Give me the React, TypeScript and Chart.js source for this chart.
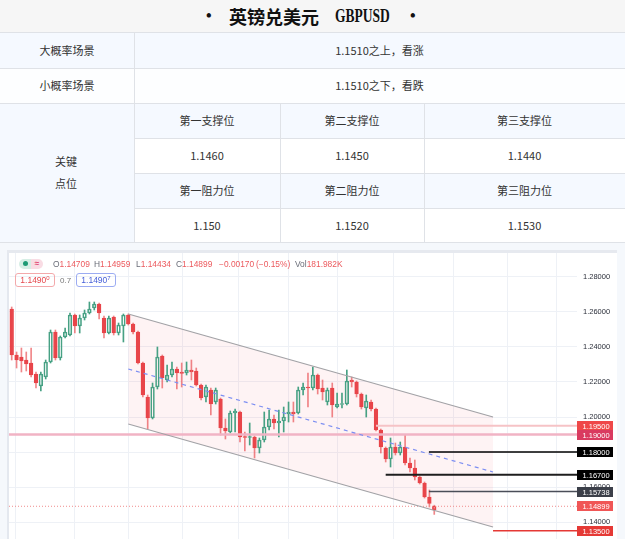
import React, { useEffect, useRef } from "react";
import { Chart, registerables } from "chart.js";
Chart.register(...registerables);

// ---- candle data (GBPUSD) ----
const opens = [1.26171,1.23543,1.23429,1.23257,1.23086,1.22457,1.21771,1.22286,1.23143,1.24857,1.23371,1.24571,1.24686,1.25829,1.25200,1.25657,1.25943,1.26229,1.26457,1.25657,1.24800,1.25714,1.24800,1.25200,1.25829,1.25314,1.24857,1.23086,1.21143,1.19943,1.21714,1.23486,1.22114,1.22400,1.22743,1.22571,1.22514,1.22686,1.22629,1.21829,1.21143,1.21543,1.20857,1.21029,1.19371,1.19143,1.20229,1.20286,1.18857,1.18829,1.18857,1.18229,1.18686,1.19429,1.19886,1.19657,1.19771,1.20171,1.20286,1.20229,1.21543,1.21714,1.21657,1.22400,1.21657,1.20857,1.21657,1.20571,1.20714,1.20743,1.22114,1.22000,1.21314,1.20514,1.20857,1.20457,1.19257,1.18229,1.17600,1.18286,1.17943,1.18286,1.17371,1.17086,1.16571,1.16229,1.15429,1.14709];
const highs = [1.26286,1.23714,1.23943,1.23714,1.23943,1.22571,1.22571,1.23257,1.24971,1.24971,1.24629,1.25086,1.25943,1.25886,1.25829,1.26114,1.26571,1.26571,1.26514,1.25771,1.25771,1.25771,1.25371,1.25886,1.25886,1.25371,1.24914,1.23143,1.21257,1.21943,1.24000,1.23543,1.22971,1.23143,1.22857,1.23086,1.23143,1.23257,1.22800,1.21886,1.21829,1.21657,1.21657,1.21086,1.19886,1.20343,1.20457,1.20343,1.19143,1.19657,1.18914,1.18800,1.20286,1.20400,1.20114,1.20400,1.20571,1.20857,1.20857,1.21714,1.21943,1.22514,1.22857,1.22457,1.22114,1.21657,1.21943,1.21371,1.21371,1.22686,1.22286,1.22057,1.21371,1.21257,1.20971,1.20514,1.19314,1.18286,1.18800,1.18514,1.18571,1.18971,1.17657,1.17543,1.16629,1.16286,1.15829,1.14959];
const lows = [1.23257,1.22800,1.22571,1.22629,1.22286,1.21657,1.21486,1.22171,1.23086,1.23257,1.23257,1.24514,1.24629,1.24800,1.24800,1.25543,1.25886,1.26114,1.25600,1.24514,1.24743,1.24686,1.24686,1.24286,1.25257,1.24743,1.23029,1.21143,1.19314,1.19886,1.21600,1.21657,1.22000,1.22286,1.21600,1.21714,1.22400,1.22114,1.21771,1.20971,1.20857,1.20114,1.20743,1.18971,1.18743,1.19086,1.19143,1.18571,1.18057,1.18400,1.17657,1.17943,1.18571,1.19257,1.19314,1.18857,1.19143,1.19714,1.19714,1.20171,1.21257,1.20571,1.21543,1.21314,1.20971,1.20686,1.20000,1.20514,1.20514,1.20686,1.21714,1.21143,1.20457,1.20000,1.20343,1.19200,1.17943,1.17429,1.17143,1.17829,1.17829,1.17257,1.16857,1.16400,1.16171,1.15371,1.14857,1.14434];
const closes = [1.23543,1.23257,1.23200,1.23029,1.22400,1.21943,1.22457,1.23143,1.24857,1.23371,1.24571,1.24857,1.25829,1.25200,1.25657,1.25943,1.26171,1.26457,1.25943,1.24800,1.25657,1.24800,1.25257,1.25829,1.25314,1.24857,1.23086,1.21257,1.19943,1.21714,1.23429,1.22229,1.22400,1.22743,1.22514,1.22486,1.22686,1.22571,1.21829,1.21086,1.21714,1.20743,1.21543,1.19371,1.19200,1.20229,1.20343,1.18857,1.18829,1.18857,1.18229,1.18686,1.19429,1.19886,1.19657,1.19771,1.20000,1.20286,1.20171,1.21543,1.21714,1.21657,1.22400,1.21600,1.21429,1.21543,1.20686,1.20743,1.20771,1.22057,1.22000,1.21314,1.20571,1.20914,1.20457,1.19257,1.18286,1.17600,1.18286,1.17943,1.18286,1.17371,1.17086,1.16571,1.16229,1.15429,1.15069,1.14899];

// price scale ticks and time grid positions (bar index)
const priceTicks = [1.14, 1.16, 1.18, 1.2, 1.22, 1.24, 1.26, 1.28];
const timeGrid = [6.86, 19.0, 29.03, 41.18, 52.15, 62.03, 72.06, 85.09, 96.97, 107.06];

// channel drawing (bar index / price)
const channelX = [24, 99.1];
const channelUpper = [1.25886, 1.2];
const channelMid = [1.22743, 1.16857];
const channelLower = [1.196, 1.13714];

// horizontal levels
const levelValues = [1.195, 1.19, 1.18, 1.167, 1.15738, 1.14899, 1.135];
const levelStart = [75, null, 85.9, 77, 85.9, null, 99.1];

// legend texts
const ohlcLegend = [
  ["O", "1.14709"], ["H", "1.14959"], ["L", "1.14434"], ["C", "1.14899"],
  ["", "\u22120.00170"], ["", "(\u22120.15%)"], ["Vol", "181.982K"],
];

const X_MIN = -0.556, X_MAX = 116.39;
const Y_MIN = 1.13029, Y_MAX = 1.29371;

const GREEN = "#47a184";
const RED = "#e8454a";
const FONT = '"Liberation Sans", Arial, sans-serif';
const CJK = '"Noto Sans CJK SC", "Noto Sans", sans-serif';

const levelStyle = [
  { line: "#f6c3c6", width: 2, dash: [] as number[], tag: "#ef4848" },
  { line: "#f1b3c4", width: 2.5, dash: [], tag: "#d93a60" },
  { line: "#000000", width: 1.5, dash: [], tag: "#000000" },
  { line: "#1e1e1e", width: 2, dash: [], tag: "#000000" },
  { line: "#4a4e58", width: 1.5, dash: [], tag: "#3b3f49" },
  { line: "#f08c8c", width: 1, dash: [1, 2], tag: "#f05656" },
  { line: "#e53935", width: 1.5, dash: [], tag: "#e53935" },
];

const tagPlugin = {
  id: "priceTags",
  afterDraw(chart: any) {
    const { ctx, chartArea, scales } = chart;
    const y = scales.y;
    ctx.save();
    levelValues.forEach((v, i) => {
      const py = y.getPixelForValue(v);
      ctx.fillStyle = levelStyle[i].tag;
      ctx.fillRect(chartArea.right, Math.round(py - 5), 36, 10);
      ctx.fillStyle = "#ffffff";
      ctx.font = `7.5px ${FONT}`;
      ctx.textBaseline = "middle";
      ctx.textAlign = "left";
      ctx.fillText(v.toFixed(5), chartArea.right + 5.5, Math.round(py) + 0.5);
    });
    ctx.restore();
  },
};

function CandleChart() {
  const ref = useRef<HTMLCanvasElement>(null);
  useEffect(() => {
    if (!ref.current) return;
    const isRed = closes.map((c, i) => (i === 0 ? c < opens[0] : c < closes[i - 1]));
    const col = isRed.map((r) => (r ? RED : GREEN));
    const wickCol = isRed.map((r) => (r ? "rgba(232,69,74,0.65)" : GREEN));
    const hollow = closes.map((c, i) => c > opens[i]);
    const bodies = closes.map((c, i) => ({ x: i, y: [opens[i], c] }));
    const upWicks = closes.map((c, i) => ({ x: i, y: [Math.max(opens[i], c), highs[i]] }));
    const lowWicks = closes.map((c, i) => ({ x: i, y: [lows[i], Math.min(opens[i], c)] }));

    const lineDs = (xs: number[], ys: number[], color: string, width: number, dash: number[], order: number) => ({
      type: "line" as const,
      data: xs.map((x, i) => ({ x, y: ys[i] })),
      borderColor: color,
      borderWidth: width,
      borderDash: dash,
      pointRadius: 0,
      fill: false,
      tension: 0,
      order,
    });

    const levelDs = levelValues.map((v, i) =>
      lineDs([levelStart[i] ?? X_MIN, X_MAX], [v, v], levelStyle[i].line, levelStyle[i].width, levelStyle[i].dash, 0)
    );

    const datasets: any[] = [
      {
        type: "bar",
        data: bodies,
        backgroundColor: col.map((c, i) => (hollow[i] ? "rgba(255,255,255,0)" : c)),
        borderColor: col,
        borderWidth: 1,
        borderSkipped: false,
        barThickness: 3.7,
        grouped: false,
        minBarLength: 1,
        order: 1,
      },
      {
        type: "bar",
        data: upWicks,
        backgroundColor: wickCol,
        borderWidth: 0,
        barThickness: 1,
        grouped: false,
        order: 2,
      },
      {
        type: "bar",
        data: lowWicks,
        backgroundColor: wickCol,
        borderWidth: 0,
        barThickness: 1,
        grouped: false,
        order: 2,
      },
      {
        ...lineDs(channelX, channelUpper, "#a2a2a6", 1.2, [], 0),
        fill: { target: "+1" },
        backgroundColor: "rgba(242,54,69,0.06)",
      },
      lineDs(channelX, channelLower, "#a2a2a6", 1.2, [], 0),
      lineDs(channelX, channelMid, "#7d8ff2", 1.2, [4, 4], 0),
      ...levelDs,
    ];

    const chart = new Chart(ref.current, {
      type: "bar",
      data: { datasets },
      options: {
        responsive: false,
        animation: false,
        layout: { padding: 0 },
        plugins: {
          legend: { display: false },
          tooltip: { enabled: false },
          filler: { drawTime: "beforeDatasetsDraw" } as any,
        },
        scales: {
          x: {
            type: "linear",
            min: X_MIN,
            max: X_MAX,
            offset: false,
            grid: { color: "#eef1f6", drawTicks: false },
            border: { display: false },
            ticks: { display: false },
            afterBuildTicks: (s: any) => {
              s.ticks = timeGrid.map((v) => ({ value: v }));
            },
            afterFit: (s: any) => {
              s.height = 0;
              s.paddingLeft = 0;
              s.paddingRight = 0;
              s.paddingTop = 0;
              s.paddingBottom = 0;
            },
          },
          y: {
            type: "linear",
            position: "right",
            min: Y_MIN,
            max: Y_MAX,
            grid: { color: "#eef1f6", drawTicks: false },
            border: { display: false },
            ticks: {
              padding: 6,
              color: "#2a2e39",
              font: { size: 7.5, family: FONT },
              callback: (v: any) => Number(v).toFixed(5),
            },
            afterBuildTicks: (s: any) => {
              s.ticks = priceTicks.map((v) => ({ value: v }));
            },
            afterFit: (s: any) => {
              s.width = 40;
              s.paddingTop = 0;
              s.paddingBottom = 0;
              s.paddingLeft = 0;
              s.paddingRight = 0;
            },
          },
        },
      } as any,
      plugins: [tagPlugin],
    });
    return () => chart.destroy();
  }, []);
  return <canvas ref={ref} width={608} height={286} style={{ position: "absolute", left: 9, top: 253, width: 608, height: 286 }} />;
}

const BORDER = "#dfe2e7";
const BLUE_BG = "#f5f9ff";

function Cell(props: { x: number; y: number; w: number; h: number; bg: string; children?: any }) {
  const { x, y, w, h, bg, children } = props;
  return (
    <div
      style={{
        position: "absolute", left: x, top: y, width: w, height: h, background: bg,
        display: "flex", alignItems: "center", justifyContent: "center",
        fontFamily: CJK, fontSize: 11, color: "#333", whiteSpace: "nowrap",
      }}
    >
      {children}
    </div>
  );
}

const HLine = ({ x, y, w }: { x: number; y: number; w: number }) => (
  <div style={{ position: "absolute", left: x, top: y, width: w, height: 1, background: BORDER }} />
);
const VLine = ({ x, y, h }: { x: number; y: number; h: number }) => (
  <div style={{ position: "absolute", left: x, top: y, width: 1, height: h, background: BORDER }} />
);

export default function App() {
  const rows = [32, 67.5, 102.5, 137.5, 172.5, 207.5, 242];
  const cols = [134, 280, 424, 625];
  const support = ["第一支撑位", "第二支撑位", "第三支撑位"];
  const supportVals = ["1.1460", "1.1450", "1.1440"];
  const resist = ["第一阻力位", "第二阻力位", "第三阻力位"];
  const resistVals = ["1.150", "1.1520", "1.1530"];
  const legendX = [53, 94, 136, 176, 219, 256, 295];
  return (
    <div style={{ position: "fixed", left: 0, top: 0, width: 625, height: 539, background: "#f5f8fc", overflow: "hidden" }}>
      {/* title */}
      <div style={{ position: "absolute", left: 0, top: 0, width: 625, height: 32, background: "#f6f6f6" }} />
      <div style={{ position: "absolute", left: 206, top: 16, transform: "translateY(-50%)", fontSize: 16, fontWeight: 700, color: "#111" }}>•</div>
      <div style={{ position: "absolute", left: 229, top: 16, transform: "translateY(-50%)", fontFamily: CJK, fontSize: 18, fontWeight: 700, color: "#111", whiteSpace: "nowrap" }}>英镑兑美元</div>
      <div style={{ position: "absolute", left: 335, top: 16, transform: "translateY(-50%) scaleX(0.75)", transformOrigin: "left center", fontFamily: '"Liberation Serif", serif', fontSize: 18, fontWeight: 700, color: "#111" }}>GBPUSD</div>
      <div style={{ position: "absolute", left: 410, top: 16, transform: "translateY(-50%)", fontSize: 16, fontWeight: 700, color: "#111" }}>•</div>

      {/* scenario rows */}
      <Cell x={0} y={rows[0]} w={cols[0]} h={rows[1] - rows[0]} bg={BLUE_BG}>大概率场景</Cell>
      <Cell x={cols[0]} y={rows[0]} w={625 - cols[0]} h={rows[1] - rows[0]} bg={BLUE_BG}>1.1510之上，看涨</Cell>
      <Cell x={0} y={rows[1]} w={cols[0]} h={rows[2] - rows[1]} bg="#fdfeff">小概率场景</Cell>
      <Cell x={cols[0]} y={rows[1]} w={625 - cols[0]} h={rows[2] - rows[1]} bg="#fdfeff">1.1510之下，看跌</Cell>

      {/* key levels */}
      <div style={{ position: "absolute", left: 0, top: rows[2], width: cols[0], height: rows[6] - rows[2], background: BLUE_BG }} />
      <div style={{ position: "absolute", left: 66, top: 161, transform: "translate(-50%,-50%)", fontFamily: CJK, fontSize: 11, color: "#333" }}>关键</div>
      <div style={{ position: "absolute", left: 66, top: 183, transform: "translate(-50%,-50%)", fontFamily: CJK, fontSize: 11, color: "#333" }}>点位</div>
      {[0, 1, 2].map((c) => (
        <React.Fragment key={c}>
          <Cell x={cols[c]} y={rows[2]} w={cols[c + 1] - cols[c]} h={35} bg={BLUE_BG}>{support[c]}</Cell>
          <Cell x={cols[c]} y={rows[3]} w={cols[c + 1] - cols[c]} h={35} bg="#ffffff">{supportVals[c]}</Cell>
          <Cell x={cols[c]} y={rows[4]} w={cols[c + 1] - cols[c]} h={35} bg={BLUE_BG}>{resist[c]}</Cell>
          <Cell x={cols[c]} y={rows[5]} w={cols[c + 1] - cols[c]} h={34.5} bg="#ffffff">{resistVals[c]}</Cell>
        </React.Fragment>
      ))}
      {rows.map((y, i) => (
        <HLine key={"h" + i} x={i >= 3 && i <= 5 ? cols[0] : 0} y={Math.round(y)} w={625} />
      ))}
      <VLine x={cols[0]} y={rows[0]} h={rows[6] - rows[0]} />
      <VLine x={cols[1]} y={rows[2]} h={rows[6] - rows[2]} />
      <VLine x={cols[2]} y={rows[2]} h={rows[6] - rows[2]} />

      {/* chart panel */}
      <div style={{ position: "absolute", left: 7, top: 250, width: 610, height: 300, background: "#ffffff", borderLeft: "2px solid #e4e8ef", boxSizing: "border-box" }} />
      <div style={{ position: "absolute", left: 7, top: 250, width: 610, height: 3, background: "#e6e9ef" }} />
      <CandleChart />

      {/* legend overlay */}
      <div style={{ position: "absolute", left: 19, top: 258.5, width: 24, height: 10, borderRadius: 5, overflow: "hidden", display: "flex" }}>
        <div style={{ width: 12, height: 10, background: "#d6eee5", display: "flex", alignItems: "center", justifyContent: "center" }}>
          <div style={{ width: 5, height: 5, borderRadius: 3, background: "#1d9a74" }} />
        </div>
        <div style={{ width: 12, height: 10, background: "#f9dce4", display: "flex", alignItems: "center", justifyContent: "center", fontSize: 8, color: "#e0436f", fontFamily: FONT, fontWeight: 700, lineHeight: "10px" }}>≈</div>
      </div>
      {ohlcLegend.map(([k, v], i) => (
        <div key={"lg" + i} style={{ position: "absolute", left: legendX[i], top: 264, transform: "translateY(-50%)", fontFamily: FONT, fontSize: 8.4, whiteSpace: "nowrap" }}>
          <span style={{ color: "#6a6d78" }}>{k}</span>
          <span style={{ color: "#ec5a5e" }}>{v}</span>
        </div>
      ))}
      <div style={{ position: "absolute", left: 15, top: 273, width: 40, height: 14, boxSizing: "border-box", border: "1px solid #f3a9ab", borderRadius: 3, display: "flex", alignItems: "center", justifyContent: "center", fontFamily: FONT, fontSize: 8.5, color: "#e5484d" }}>
        1.1490<span style={{ fontSize: 6, position: "relative", top: -2 }}>0</span>
      </div>
      <div style={{ position: "absolute", left: 60, top: 280, transform: "translateY(-50%)", fontFamily: FONT, fontSize: 8, color: "#777" }}>0.7</div>
      <div style={{ position: "absolute", left: 76, top: 273, width: 40, height: 14, boxSizing: "border-box", border: "1px solid #9cacf2", borderRadius: 3, display: "flex", alignItems: "center", justifyContent: "center", fontFamily: FONT, fontSize: 8.5, color: "#4760d8" }}>
        1.1490<span style={{ fontSize: 6, position: "relative", top: -2 }}>7</span>
      </div>
    </div>
  );
}
